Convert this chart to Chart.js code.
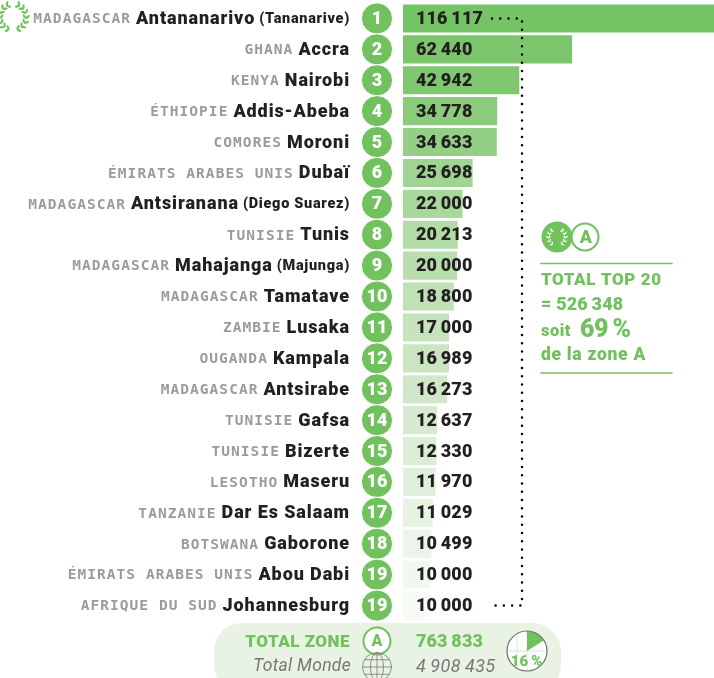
<!DOCTYPE html>
<html><head><meta charset="utf-8">
<style>html,body{margin:0;padding:0;background:#fff;overflow:hidden;width:714px;height:678px}
#wrap{position:relative;width:714px;height:678px;overflow:hidden}canvas{display:block}</style>
<script src="https://cdn.jsdelivr.net/npm/chart.js@4"></script></head>
<body><div id="wrap"><canvas id="c" width="728" height="678" style="width:728px;height:678px"></canvas></div>
<script>
const countries=["MADAGASCAR","GHANA","KENYA","ÉTHIOPIE","COMORES","ÉMIRATS ARABES UNIS","MADAGASCAR","TUNISIE","MADAGASCAR","MADAGASCAR","ZAMBIE","OUGANDA","MADAGASCAR","TUNISIE","TUNISIE","LESOTHO","TANZANIE","BOTSWANA","ÉMIRATS ARABES UNIS","AFRIQUE DU SUD"];
const cities=["Antananarivo","Accra","Nairobi","Addis-Abeba","Moroni","Dubaï","Antsiranana","Tunis","Mahajanga","Tamatave","Lusaka","Kampala","Antsirabe","Gafsa","Bizerte","Maseru","Dar Es Salaam","Gaborone","Abou Dabi","Johannesburg"];
const altNames=["(Tananarive)","","","","","","(Diego Suarez)","","(Majunga)","","","","","","","","","","",""];
const ranks=["1","2","3","4","5","6","7","8","9","10","11","12","13","14","15","16","17","18","19","19"];
const values=[116117,62440,42942,34778,34633,25698,22000,20213,20000,18800,17000,16989,16273,12637,12330,11970,11029,10499,10000,10000];
const valueLabels=["116\u2009117","62\u2009440","42\u2009942","34\u2009778","34\u2009633","25\u2009698","22\u2009000","20\u2009213","20\u2009000","18\u2009800","17\u2009000","16\u2009989","16\u2009273","12\u2009637","12\u2009330","11\u2009970","11\u2009029","10\u2009499","10\u2009000","10\u2009000"];
const barColors=["#74c365","#7bc66c","#80c870","#8bcb7b","#93cf84","#a0d492","#a9d89c","#b2dca6","#b9deae","#c0e1b5","#c6e3bd","#cbe5c3","#d0e7c9","#d7ead1","#dcedd6","#e1f0dc","#e7f3e3","#ecf5e9","#f1f8ef","#f7fbf6"];
const GREEN="#72c15f",GREY="#9a9b9e",INK="#231f20",PILL="#e8f3e4",SANS="Roboto",MONO="'DejaVu Sans Mono'";

function txt(ctx,s,x,y,font,color,align,ls){
  ctx.font=font;ctx.fillStyle=color;ctx.textAlign=align||"left";ctx.textBaseline="middle";
  ctx.letterSpacing=(ls||0)+"px";ctx.fillText(s,x,y);const w=ctx.measureText(s).width;ctx.letterSpacing="0px";return w;
}
function laurel(ctx,cx,cy,r,col,L,from,to,step){
  ctx.fillStyle=col;
  [-1,1].forEach(side=>{
    for(let a=from;a<=to;a+=step){
      ctx.save();ctx.translate(cx,cy);ctx.scale(side,1);ctx.rotate(a*Math.PI/180);ctx.translate(0,-r);
      ctx.beginPath();ctx.ellipse(-.6*L,-.6*L,L,.45*L,Math.PI/4,0,7);ctx.fill();
      ctx.beginPath();ctx.ellipse(-.6*L,.6*L,L,.45*L,-Math.PI/4,0,7);ctx.fill();
      ctx.restore();
    }
  });
}
function globe(ctx,cx,cy,r){
  ctx.save();ctx.strokeStyle="#77787b";ctx.lineWidth=.8;
  ctx.beginPath();ctx.arc(cx,cy,r,0,7);ctx.stroke();
  ctx.beginPath();ctx.ellipse(cx,cy,r*.45,r,0,0,7);ctx.stroke();
  ctx.beginPath();ctx.moveTo(cx,cy-r);ctx.lineTo(cx,cy+r);ctx.stroke();
  [-.5,0,.5].forEach(k=>{const h=Math.sqrt(1-k*k)*r;ctx.beginPath();ctx.moveTo(cx-h,cy+k*r);ctx.lineTo(cx+h,cy+k*r);ctx.stroke();});
  ctx.restore();
}
const deco={id:"deco",
 beforeDatasetsDraw(chart){
  const ctx=chart.ctx;ctx.save();
  ctx.fillStyle=PILL;ctx.beginPath();ctx.roundRect(214,623,347,70,28);ctx.fill();
  ctx.restore();
 },
 afterDatasetsDraw(chart){
  const ctx=chart.ctx,y=chart.scales.y;ctx.save();
  cities.forEach((c,i)=>{
    const cy=y.getPixelForValue(i),py=cy+1;let x=350;
    if(altNames[i]){x-=txt(ctx,altNames[i],x,py,"900 14.5px "+SANS,INK,"right",.7)+4;}
    x-=txt(ctx,c,x,py,"900 18px "+SANS,INK,"right",.9)+5;
    txt(ctx,countries[i],x,py,"700 14.5px "+MONO,GREY,"right",1.05);
    ctx.beginPath();ctx.arc(377,cy,15.6,0,7);ctx.fillStyle=GREEN;ctx.fill();ctx.strokeStyle="#fff";ctx.lineWidth=1;ctx.stroke();
    txt(ctx,ranks[i],377,py,"900 18px "+SANS,"#fff","center",0);
    txt(ctx,valueLabels[i],416,py,"900 18px "+SANS,INK,"left",.1);
  });
  const y1=y.getPixelForValue(0),y2=y.getPixelForValue(19);
  ctx.strokeStyle="#000";ctx.lineWidth=2.5;ctx.lineCap="round";ctx.setLineDash([0,8.25]);
  ctx.beginPath();ctx.moveTo(492,y1);ctx.lineTo(522,y1);ctx.lineTo(522,y2);ctx.lineTo(488,y2);ctx.stroke();
  ctx.setLineDash([]);
  ctx.beginPath();ctx.arc(585,237,13.5,0,7);ctx.fillStyle="#fff";ctx.fill();ctx.strokeStyle=GREEN;ctx.lineWidth=2;ctx.stroke();
  txt(ctx,"A",586,238,"900 18px "+SANS,GREEN,"center");
  ctx.beginPath();ctx.arc(557,237,15.5,0,7);ctx.fillStyle=GREEN;ctx.fill();
  laurel(ctx,557,237,8.5,"#fff",1.6,45,150,26);
  ctx.strokeStyle=GREEN;ctx.lineWidth=1.5;
  [263.5,373].forEach(ly=>{ctx.beginPath();ctx.moveTo(541,ly);ctx.lineTo(672,ly);ctx.stroke();});
  txt(ctx,"TOTAL TOP 20",541,281,"900 17px "+SANS,GREEN,"left",.6);
  txt(ctx,"= 526\u2009348",541,305,"900 18px "+SANS,GREEN,"left",.1);
  txt(ctx,"soit",541,332,"900 16.5px "+SANS,GREEN,"left",.5);
  txt(ctx,"69\u2009%",580,331,"900 25px "+SANS,GREEN,"left",-.5);
  txt(ctx,"de la zone A",541,356,"900 17.5px "+SANS,GREEN,"left",.7);
  laurel(ctx,13,17,13,GREEN,2.6,30,162,22);
  txt(ctx,"TOTAL ZONE",350,642.5,"900 17px "+SANS,GREEN,"right",.5);
  ctx.beginPath();ctx.arc(377,641,13.5,0,7);ctx.fillStyle="#fff";ctx.fill();ctx.strokeStyle=GREEN;ctx.lineWidth=2;ctx.stroke();
  txt(ctx,"A",377,642,"900 16px "+SANS,GREEN,"center");
  txt(ctx,"763\u2009833",416,642.5,"900 18px "+SANS,GREEN,"left",.1);
  txt(ctx,"Total Monde",351,667,"italic 400 17.5px "+SANS,"#77787b","right",.3);
  globe(ctx,377,667,14.5);
  txt(ctx,"4\u2009908\u2009435",416,667,"italic 400 18px "+SANS,"#77787b","left",.4);
  ctx.beginPath();ctx.arc(527,651,20,0,7);ctx.fillStyle="#fff";ctx.fill();
  ctx.strokeStyle="#dfe3df";ctx.lineWidth=1;
  ctx.beginPath();ctx.moveTo(507,651);ctx.lineTo(547,651);ctx.moveTo(517,633);ctx.lineTo(517,669);ctx.moveTo(527,631);ctx.lineTo(527,671);ctx.stroke();
  ctx.beginPath();ctx.moveTo(527,651);ctx.arc(527,651,20,-Math.PI/2,-Math.PI/2+.16*2*Math.PI);ctx.closePath();ctx.fillStyle=GREEN;ctx.fill();
  ctx.beginPath();ctx.arc(527,651,20,0,7);ctx.strokeStyle="#6d6e71";ctx.lineWidth=1.2;ctx.stroke();
  txt(ctx,"16\u2009%",526.5,662,"900 15px "+SANS,GREEN,"center");
  ctx.restore();
 }};
new Chart(document.getElementById("c"),{
  type:"bar",
  data:{labels:cities,datasets:[{data:values,backgroundColor:barColors,borderWidth:0,barPercentage:.91,categoryPercentage:1}]},
  options:{indexAxis:"y",responsive:false,animation:false,events:[],
    layout:{padding:{left:403,right:0,top:3,bottom:57}},
    plugins:{legend:{display:false},tooltip:{enabled:false},title:{display:false}},
    scales:{x:{display:false,min:0,max:120000,grid:{display:false}},
            y:{display:false,grid:{display:false}}}},
  plugins:[deco]
});
</script></body></html>
